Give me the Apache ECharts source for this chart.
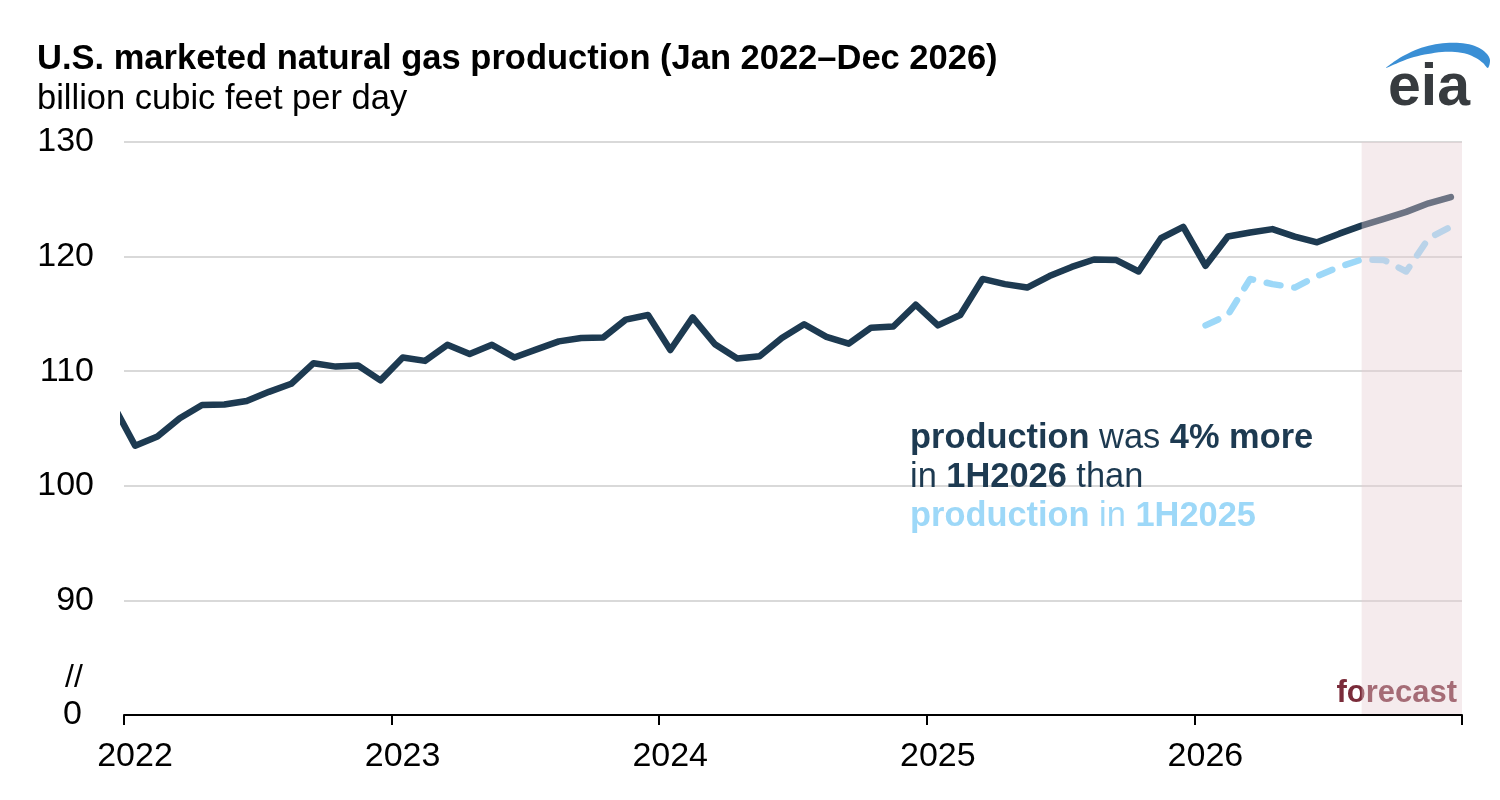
<!DOCTYPE html>
<html><head><meta charset="utf-8">
<script src="https://cdn.jsdelivr.net/npm/echarts@6/dist/echarts.min.js"></script>
<style>html,body{margin:0;padding:0;background:#fff}#c{width:1500px;height:800px}</style>
</head><body><div id="c"></div>
<script>
// ---- data (billion cubic feet per day), monthly ----
const yearLabels = ['2022', '2023', '2024', '2025', '2026'];
const leadInDec2021 = 107.1;           // clipped at the left edge
const prod2022 = [103.5, 104.3, 105.9, 107.05, 107.1, 107.4, 108.2, 108.9, 110.7, 110.4, 110.5, 109.2];
const prod2023 = [111.2, 110.9, 112.3, 111.5, 112.3, 111.2, 111.9, 112.6, 112.9, 112.95, 114.5, 114.9];
const prod2024 = [111.85, 114.7, 112.35, 111.1, 111.3, 112.9, 114.1, 113.0, 112.4, 113.8, 113.9, 115.8];
const prod2025 = [114.0, 114.9, 118.05, 117.6, 117.3, 118.3, 119.1, 119.75, 119.7, 118.7, 121.6, 122.6];
const prod2026 = [119.2, 121.75, 122.1, 122.4, 121.75, 121.25, 122.0, 122.7, 123.3, 123.9, 124.65, 125.2];
const forecastStart = 55.5;  // Aug 2026 (months since Jan 2022, mid-month)
const axisEnd = 60;          // Jan 2027
const yMin = 80, yMax = 130, yStep = 10;

// ---- build series ----
const FONT = "'Liberation Sans', Arial, Helvetica, sans-serif";
const allYears = [prod2022, prod2023, prod2024, prod2025, prod2026];
const mainData = [[-0.5, leadInDec2021]];
allYears.forEach((arr, y) => arr.forEach((v, m) => mainData.push([y * 12 + m + 0.5, v])));
const priorData = prod2025.map((v, m) => [48 + m + 0.5, v]);

const logoArc = [[1386,68],[1395,61],[1405,55],[1418,49],[1432,45],[1446,43],[1460,43],[1472,45],[1481,49],[1487,54],[1490,60],[1488,68],
                 [1483,63],[1476,58],[1467,54],[1455,52],[1442,52],[1428,54],[1414,57],[1400,62]];

const chart = echarts.init(document.getElementById('c'), null, { renderer: 'canvas' });
chart.setOption({
  animation: false,
  backgroundColor: '#ffffff',
  textStyle: { fontFamily: FONT },
  grid: { left: 124, right: 38, top: 142, bottom: 85, containLabel: false },
  xAxis: {
    type: 'value', min: 0, max: axisEnd, interval: 12, z: 20,
    axisLine: { show: true, onZero: false, lineStyle: { color: '#000', width: 2 } },
    axisTick: { show: true, length: 10, lineStyle: { color: '#000', width: 2 } },
    axisLabel: {
      fontSize: 34, color: '#000', fontFamily: FONT, margin: 25,
      padding: [0, 0, 0, 22],
      showMaxLabel: true,
      formatter: v => (v < axisEnd ? yearLabels[Math.round(v / 12)] : '')
    },
    splitLine: { show: false }
  },
  yAxis: {
    type: 'value', min: yMin, max: yMax, interval: yStep,
    axisLine: { show: false }, axisTick: { show: false },
    axisLabel: {
      fontSize: 34, color: '#000', fontFamily: FONT, margin: 30,
      formatter: v => (v === yMin ? '{z|0}' : String(v)),
      rich: { z: { fontSize: 34, color: '#000', fontFamily: FONT, padding: [0, 12, 0, 0] } }
    },
    splitLine: { show: true, lineStyle: { color: '#d9d9d9', width: 2 } }
  },
  series: [
    {
      name: 'prior year', type: 'line', data: priorData, showSymbol: false, silent: true, z: 3,
      lineStyle: { color: '#9dd8f8', width: 6.5, type: [14, 14], cap: 'round', join: 'round' }
    },
    {
      name: 'production', type: 'line', data: mainData, showSymbol: false, silent: true, z: 4, clip: true,
      lineStyle: { color: '#1d3a51', width: 6.5, cap: 'round', join: 'round' }
    },
    {
      name: 'forecast', type: 'custom', silent: true, z: 10,
      data: [[forecastStart, axisEnd]],
      renderItem: (params, api) => {
        const p0 = api.coord([api.value(0), yMax]);
        const p1 = api.coord([api.value(1), yMin]);
        return { type: 'rect', shape: { x: p0[0], y: p0[1], width: p1[0] - p0[0], height: p1[1] - p0[1] },
                 style: { fill: 'rgba(230,205,210,0.4)' } };
      }
    }
  ],
  graphic: [
    { type: 'text', z: 1, style: { text: 'U.S. marketed natural gas production (Jan 2022\u2013Dec 2026)', x: 37, y: 59,
      font: 'bold 34.5px ' + FONT, fill: '#000', verticalAlign: 'middle' } },
    { type: 'text', z: 1, style: { text: 'billion cubic feet per day', x: 37, y: 99,
      font: '34.5px ' + FONT, fill: '#000', verticalAlign: 'middle' } },
    { type: 'text', z: 1, style: { text: '//', x: 74, y: 678, font: '32px ' + FONT, fill: '#000',
      align: 'center', verticalAlign: 'middle' } },
    { type: 'text', z: 1, style: { text: 'forecast', x: 1457, y: 693, font: 'bold 31px ' + FONT, fill: '#7a2c3a',
      align: 'right', verticalAlign: 'middle' } },
    { type: 'text', z: 1, style: {
      x: 910, y: 419, verticalAlign: 'top',
      text: '{b|production} {r|was} {b|4% more}\n{r|in} {b|1H2026} {r|than}\n{lb|production} {l|in} {lb|1H2025}',
      rich: {
        b: { fontFamily: FONT, fontSize: 34.4, fontWeight: 'bold', fill: '#1d3a51', lineHeight: 39 },
        r: { fontFamily: FONT, fontSize: 34.4, fill: '#1d3a51', lineHeight: 39 },
        lb: { fontFamily: FONT, fontSize: 34.4, fontWeight: 'bold', fill: '#9dd8f8', lineHeight: 39 },
        l: { fontFamily: FONT, fontSize: 34.4, fill: '#9dd8f8', lineHeight: 39 }
      }, fill: '#1d3a51', font: '34.4px ' + FONT } },
    { type: 'polygon', z: 1, shape: { points: logoArc, smooth: 0.3 }, style: { fill: '#3a8fd5' } },
    { type: 'text', z: 1, style: { text: 'eia', x: 1429, y: 89, font: 'bold 59px ' + FONT, fill: '#373b3f',
      align: 'center', verticalAlign: 'middle' } }
  ]
});
</script>
</body></html>
